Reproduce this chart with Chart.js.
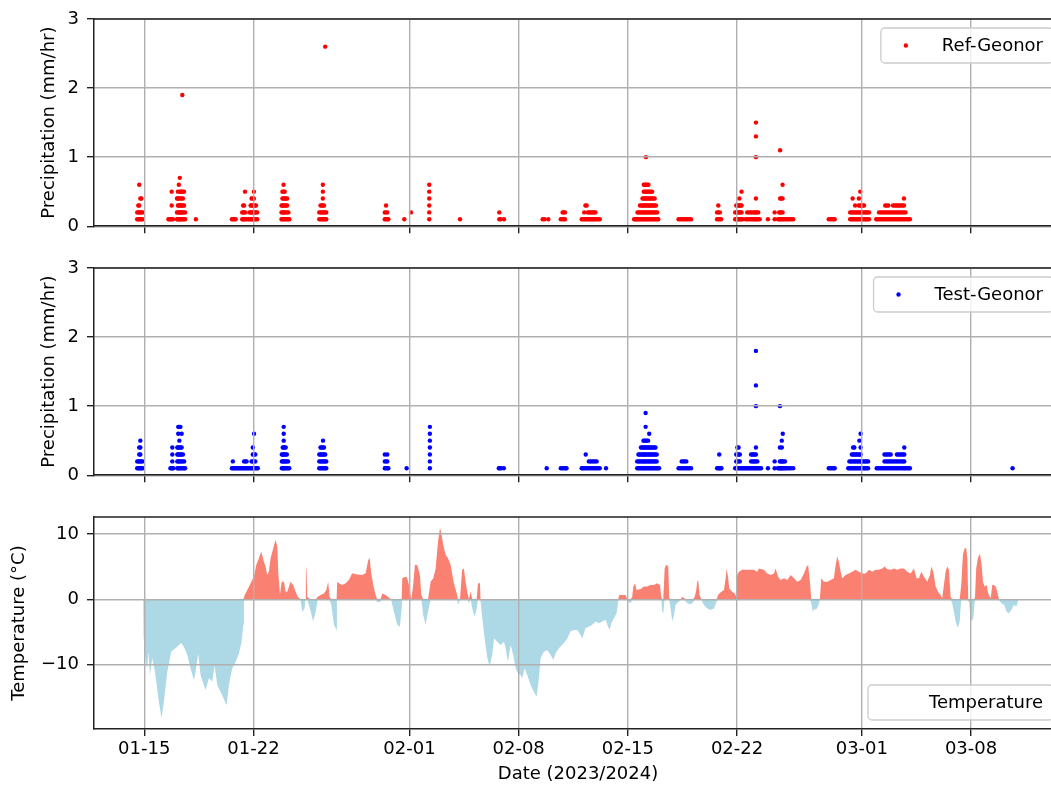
<!DOCTYPE html>
<html>
<head>
<meta charset="utf-8">
<script src="https://cdn.jsdelivr.net/npm/chart.js@4"></script>
<style>
  html, body { margin: 0; padding: 0; background: #fff; overflow: hidden; }
  body { width: 1051px; height: 785px; position: relative; }
  canvas { position: absolute; left: 0; }
  #c1 { top: 0; }
  #c2 { top: 249px; }
  #c3 { top: 498px; }
</style>
</head>
<body>
<canvas id="c1" width="1070" height="245"></canvas>
<canvas id="c2" width="1070" height="245"></canvas>
<canvas id="c3" width="1070" height="287"></canvas>
<script>
// x positions are days counted from 2024-01-15
const xTickDays = [0, 7, 17, 24, 31, 38, 46, 53];
const xTickLabels = ["01-15", "01-22", "02-01", "02-08", "02-15", "02-22", "03-01", "03-08"];
const xMin = -3.22;
const xMax = 58.83;

const precipTicks = [0, 1, 2, 3];
const tempTicks = [-10, 0, 10];

// [day, hourly values (mm/hr) ...]
const refColumns = [
  [-0.45,.1,.2],[-0.38,.1,.2,.3],[-0.32,.1,.2,.3,.6],[-0.25,.1,.2,.4],[-0.18,.1,.2,.4],[-0.1,.1,.2],
  [1.55,.1],[1.62,.1],[1.7,.1],[1.76,.1,.3,.5],[1.84,.1],[2.1,.1,.2,.4],[2.16,.1,.2,.3,.4,.5],
  [2.22,.1,.2,.3,.4,.6],[2.28,.1,.2,.3,.4,.5,.7],[2.34,.1,.2,.3,.5],[2.4,.1,.2,.3,.4,.5],[2.44,1.9],
  [2.48,.1,.2,.3,.4,.5],[2.55,.1,.2,.3,.5],[2.62,.1,.2],[3.31,.1],
  [5.62,.1],[5.7,.1],[5.78,.1],[5.86,.1],[6.28,.1,.2],[6.34,.1,.2,.3],[6.4,.1,.2,.3],[6.46,.1,.2,.5],
  [6.56,.1],[6.66,.1],[6.74,.1,.2],[6.82,.1,.2,.3],[6.88,.1,.2,.3,.4],[6.95,.1,.2,.3,.4],
  [7.03,.1,.2,.3,.4,.5],[7.1,.1,.2,.3],[7.16,.1,.2,.3],[7.24,.1,.2],
  [8.8,.1,.2,.3],[8.86,.1,.2,.3,.4,.5],[8.93,.1,.2,.3,.4,.5,.6],[9.0,.1,.2,.3,.4,.5],[9.08,.1,.2,.3,.4],
  [9.16,.1,.2,.3,.4],[9.24,.1,.2],[9.3,.1],
  [11.22,.1,.2],[11.3,.1,.2,.3],[11.38,.1,.2,.3],[11.45,.1,.2,.3,.4,.5,.6],[11.52,.1,.2,.3],
  [11.6,.1,.2,2.6],[11.67,.1,.2],
  [15.42,.1,.2],[15.5,.1,.2,.3],[15.58,.1,.2],[15.65,.1],[16.67,.1],[17.1,.2],
  [18.27,.1,.2,.3,.4,.5,.6],[20.24,.1],
  [22.76,.1,.2],[22.85,.1],[23.06,.1],
  [25.54,.1],[25.66,.1],[25.9,.1],[26.7,.1],[26.82,.1,.2],[26.9,.1,.2],[26.97,.1,.2],
  [28.04,.1],[28.12,.1],[28.2,.1,.2],[28.28,.1,.3],[28.36,.1,.3],[28.44,.1,.2],[28.52,.1,.2],
  [28.6,.1,.2],[28.68,.1,.2],[28.76,.1,.2],[28.84,.1,.2],[28.92,.1,.2],[29.0,.1],[29.1,.1],[29.2,.1],
  [31.4,.1],[31.48,.1],[31.56,.1],[31.62,.1,.2],[31.7,.1,.2],[31.78,.1,.2,.3],[31.86,.1,.2,.3],
  [31.94,.1,.2,.3,.4],[32.02,.1,.2,.3,.4,.5,.6],[32.1,.1,.2,.3,.4,.5,.6],[32.16,.1,.2,.3,.4,.5,.6,1.0],
  [32.24,.1,.2,.3,.4,.5,.6],[32.32,.1,.2,.3,.4,.5,.6],[32.4,.1,.2,.3,.4,.5],[32.48,.1,.2,.3,.4,.5],
  [32.56,.1,.2,.3,.4,.5],[32.64,.1,.2,.3,.4],[32.72,.1,.2,.3,.4],[32.8,.1,.2,.3],[32.88,.1,.2],[32.95,.1],
  [34.25,.1],[34.35,.1],[34.45,.1],[34.55,.1],[34.65,.1],[34.75,.1],[34.85,.1],[34.95,.1],[35.05,.1],
  [36.72,.1,.2],[36.8,.1,.2,.3],[36.9,.1,.2],[36.98,.1],
  [37.88,.1,.2],[37.95,.1,.2,.3],[38.02,.1,.2,.3],[38.1,.1,.2,.3],[38.15,.1,.2,.3,.4],[38.22,.1,.2,.3],
  [38.29,.1,.2,.3,.5],[38.36,.1],[38.55,.1],[38.65,.1,.2],[38.75,.1,.2],[38.85,.1,.2],[38.95,.1,.2],
  [39.05,.1,.2],[39.13,.1,.2],[39.21,.1,.2,.4,1.0,1.3,1.5],[39.28,.1,.2],[39.36,.1,.2],[39.45,.1],
  [39.98,.1],[40.41,.1,.2],[40.62,.1],[40.7,.1,.2],[40.76,.1,.2,.4,1.1],[40.84,.1,.2,.4],
  [40.92,.1,.2,.4,.6],[41.0,.1],[41.1,.1],[41.2,.1],[41.3,.1],[41.4,.1],[41.5,.1],[41.6,.1],
  [43.88,.1],[43.98,.1],[44.08,.1],[44.18,.1],[44.26,.1],
  [45.25,.1,.2],[45.33,.1,.2],[45.41,.1,.2,.4],[45.49,.1,.2],[45.57,.1,.2,.3],[45.65,.1,.2],
  [45.73,.1,.2],[45.81,.1,.2,.3,.4],[45.9,.1,.2,.3,.5],[45.98,.1,.2,.3],[46.06,.1,.2,.3],
  [46.14,.1,.2,.3],[46.22,.1,.2],[46.3,.1,.2],[46.38,.1,.2],[46.46,.1,.2],
  [46.92,.1],[47.0,.1],[47.1,.1,.2],[47.2,.1,.2],[47.3,.1,.2],[47.4,.1,.2],[47.5,.1,.2,.3],
  [47.6,.1,.2,.3],[47.7,.1,.2,.3],[47.8,.1,.2],[47.9,.1,.2],[48.0,.1,.2,.3],[48.1,.1,.2,.3],
  [48.2,.1,.2,.3],[48.3,.1,.2,.3],[48.4,.1,.2,.3],[48.5,.1,.2,.3],[48.6,.1,.2,.3],[48.7,.1,.2,.3,.4],
  [48.8,.1,.2],[48.9,.1],[49.0,.1],[49.08,.1]
];

const testColumns = [
  [-0.45,.1,.2],[-0.38,.1,.2],[-0.32,.1,.2,.3,.4],[-0.25,.1,.2,.3,.4,.5],[-0.18,.1,.2],[-0.1,.1,.2],
  [1.68,.1],[1.75,.1],[1.8,.1,.2,.3,.4],[1.86,.1],[2.12,.1,.2,.3,.4],[2.18,.1,.2,.3,.4,.6,.7],
  [2.25,.1,.2,.3,.4,.5,.7],[2.32,.1,.2,.3,.4,.7],[2.4,.1,.2,.3,.4,.6],[2.48,.1,.2,.3],[2.56,.1,.2],[2.62,.1],
  [5.62,.1],[5.68,.1,.2],[5.76,.1],[5.84,.1],[5.92,.1],[6.0,.1],[6.08,.1],[6.16,.1],[6.24,.1],[6.32,.1],
  [6.4,.1,.2],[6.48,.1,.2],[6.56,.1,.2],[6.64,.1],[6.72,.1],[6.8,.1],[6.88,.1,.2],[6.96,.1,.2,.3,.4],
  [7.04,.1,.2,.3,.6],[7.12,.1,.2,.3],[7.2,.1],[7.28,.1],
  [8.82,.1,.2,.3],[8.88,.1,.2,.3,.4],[8.94,.1,.2,.3,.4,.5,.6,.7],[9.0,.1,.2,.3,.4],[9.07,.1,.2,.3,.4],
  [9.14,.1,.2,.3],[9.22,.1,.2],[9.3,.1],
  [11.22,.1,.2,.3],[11.3,.1,.2,.3,.4],[11.38,.1,.2,.3,.4],[11.46,.1,.2,.3,.4,.5],[11.52,.1,.2,.3,.4],
  [11.6,.1,.2,.3],[11.67,.1,.2],
  [15.42,.1,.2,.3],[15.5,.1,.2],[15.58,.1,.2,.3],[15.65,.1],[16.82,.1],
  [18.31,.1,.2,.3,.4,.5,.6,.7],
  [22.73,.1],[22.8,.1],[22.88,.1],[23.05,.1],[25.8,.1],
  [26.7,.1],[26.8,.1],[26.9,.1],[27.0,.1],[27.07,.1],
  [28.04,.1],[28.12,.1],[28.2,.1],[28.3,.1,.3],[28.4,.1],[28.5,.1,.2],[28.6,.1,.2],[28.7,.1,.2],
  [28.8,.1,.2],[28.9,.1,.2],[29.0,.1,.2],[29.1,.1],[29.2,.1],[29.6,.1],
  [31.6,.1,.2],[31.68,.1,.2,.3],[31.76,.1,.2,.3],[31.84,.1,.2,.3,.4],[31.92,.1,.2,.3,.4],
  [32.0,.1,.2,.3,.4,.5],[32.07,.1,.2,.3,.4,.5],[32.14,.1,.2,.3,.4,.5,.7,.9],[32.22,.1,.2,.3,.4,.5],
  [32.3,.1,.2,.3,.4,.5],[32.37,.1,.2,.3,.4,.6],[32.45,.1,.2,.3,.4],[32.53,.1,.2,.3,.4],[32.61,.1,.2,.3,.4],
  [32.69,.1,.2,.3,.4],[32.77,.1,.2,.3,.4],[32.85,.1,.2,.3],[32.93,.1],[33.0,.1],
  [34.25,.1],[34.35,.1],[34.45,.1,.2],[34.55,.1,.2],[34.65,.1,.2],[34.75,.1,.2],[34.85,.1],[34.95,.1],[35.05,.1],
  [36.72,.1],[36.8,.1],[36.86,.1,.3],[36.94,.1],[37.0,.1],
  [37.88,.1],[37.95,.1,.2,.3],[38.02,.1,.2,.3,.4],[38.1,.1,.2,.3,.4],[38.18,.1,.2,.3],[38.26,.1],
  [38.34,.1],[38.42,.1],[38.5,.1],[38.58,.1],[38.66,.1],[38.74,.1],[38.82,.1],[38.9,.1,.2,.3],
  [38.98,.1,.2,.3],[39.06,.1,.2,.3],[39.14,.1,.2,.3],[39.21,.1,.2,.3,.4,1.0,1.3,1.8],[39.3,.1,.2],
  [39.38,.1],[39.46,.1],[39.54,.1],
  [39.98,.1],[40.41,.1,.2],[40.62,.1],[40.7,.1],[40.75,.1,.2,.4,1.0],[40.82,.1,.2],[40.87,.1,.2,.4,.5],
  [40.93,.1,.2,.6],[41.0,.1,.2],[41.07,.1,.2],[41.15,.1],[41.25,.1],[41.35,.1],[41.45,.1],[41.6,.1],
  [43.88,.1],[43.98,.1],[44.08,.1],[44.18,.1],[44.26,.1],
  [45.13,.1],[45.2,.1,.2],[45.28,.1,.2],[45.36,.1,.2,.3],[45.44,.1,.2,.3,.4],[45.52,.1,.2,.3,.4],
  [45.6,.1,.2,.3],[45.68,.1,.2,.3],[45.76,.1,.2,.3],[45.84,.1,.2,.3,.5],[45.92,.1,.2,.3,.4,.6],
  [46.0,.1,.2],[46.08,.1,.2],[46.16,.1,.2],[46.24,.1,.2],[46.32,.1,.2],[46.4,.1,.2],
  [46.95,.1],[47.05,.1],[47.15,.1],[47.25,.1],[47.35,.1],[47.45,.1,.2,.3],[47.55,.1,.2,.3],
  [47.65,.1,.2,.3],[47.75,.1,.2,.3],[47.85,.1,.2,.3],[47.95,.1,.2],[48.05,.1,.2],[48.15,.1,.2],
  [48.25,.1,.2,.3],[48.35,.1,.2,.3],[48.45,.1,.2,.3],[48.55,.1,.2,.3],[48.65,.1,.2,.3],
  [48.72,.1,.2,.3,.4],[48.8,.1],[48.9,.1],[49.0,.1],[49.08,.1],
  [55.66,.1]
];

// [day, air temperature (°C)]
const tempReadings = [
  [-0.07,0],[-0.05,-5.5],[0.09,-9.5],[0.19,-10.6],[0.26,-8.0],[0.37,-11.6],[0.51,-9.0],[0.69,-11.1],
  [0.94,-15.7],[1.11,-18.2],[1.26,-15.7],[1.48,-11.1],[1.73,-8.0],[2.01,-7.5],[2.22,-7.0],[2.37,-6.7],
  [2.54,-7.25],[2.76,-8.5],[2.97,-10.6],[3.19,-12.4],[3.29,-11.1],[3.46,-8.3],[3.61,-11.6],[3.93,-13.9],
  [4.15,-12.1],[4.36,-12.6],[4.51,-10.1],[4.68,-13.1],[5.0,-14.7],[5.28,-16.2],[5.43,-13.1],[5.64,-10.6],
  [5.86,-9.55],[6.07,-8.3],[6.24,-6.5],[6.35,-3.9],[6.39,-0.4],[6.44,0.66],[6.6,1.4],[6.82,2.45],
  [6.92,2.96],[7.03,3.47],[7.18,5.25],[7.35,6.28],[7.5,7.3],[7.67,5.76],[7.78,5.0],[7.88,3.7],[7.99,4.2],
  [8.1,6.28],[8.27,7.8],[8.42,9.1],[8.53,8.06],[8.59,4.2],[8.7,0.7],[8.81,2.7],[8.96,2.7],[9.06,1.17],
  [9.17,1.17],[9.38,2.7],[9.55,2.2],[9.7,1.17],[9.85,0.4],[10.02,-0.1],[10.13,-1.9],[10.28,-1.4],
  [10.33,0],[10.36,5.0],[10.4,4.5],[10.45,0.4],[10.62,-1.4],[10.83,-3.4],[10.99,-1.9],[11.13,0.4],
  [11.31,0.66],[11.52,0.9],[11.67,1.42],[11.79,2.7],[11.88,0.4],[11.99,-0.87],[12.16,-3.9],[12.33,-4.7],
  [12.35,0],[12.37,2.7],[12.48,2.45],[12.69,2.2],[12.91,2.45],[13.12,2.96],[13.33,4.0],[13.65,3.8],
  [13.97,3.7],[14.19,4.0],[14.36,6.0],[14.45,6.3],[14.55,4.0],[14.68,2.2],[14.83,0.66],[14.94,-0.46],
  [15.15,-0.36],[15.26,0.9],[15.47,0.66],[15.69,0.25],[15.83,-0.1],[16.01,-1.9],[16.22,-3.9],[16.39,-4.2],
  [16.5,-1.4],[16.54,3.2],[16.76,3.47],[16.86,3.2],[16.97,2.2],[17.12,-0.26],[17.24,2.2],[17.35,5.25],
  [17.5,5.25],[17.67,3.7],[17.76,0.66],[17.88,-2.4],[18.04,-3.9],[18.19,-1.9],[18.36,2.7],[18.53,3.2],
  [18.68,4.7],[18.83,8.8],[18.96,10.9],[19.04,10.1],[19.17,8.3],[19.32,6.8],[19.47,6.3],[19.64,5.25],
  [19.85,2.45],[20.06,0.66],[20.11,-0.87],[20.24,-0.1],[20.38,4.5],[20.49,4.7],[20.6,2.7],[20.71,1.17],
  [20.81,-0.6],[20.92,1.17],[21.03,-1.4],[21.18,-2.7],[21.31,-1.4],[21.39,2.45],[21.52,2.45],
  [21.56,-0.36],[21.67,-2.9],[21.82,-6.0],[21.99,-9.0],[22.14,-10.3],[22.31,-8.5],[22.42,-6.0],
  [22.63,-6.5],[22.85,-7.0],[23.06,-6.5],[23.17,-7.5],[23.31,-9.55],[23.49,-7.0],[23.65,-8.5],
  [23.81,-10.6],[23.96,-11.4],[24.13,-11.6],[24.23,-12.1],[24.38,-10.6],[24.55,-11.6],[24.77,-13.1],
  [24.98,-14.2],[25.15,-14.9],[25.3,-12.1],[25.41,-9.0],[25.62,-8.0],[25.83,-7.8],[26.05,-8.5],
  [26.22,-9.3],[26.37,-8.3],[26.58,-7.5],[26.9,-6.7],[27.12,-6.0],[27.33,-4.9],[27.54,-4.7],
  [27.76,-4.7],[27.97,-5.47],[28.08,-6.0],[28.29,-4.4],[28.51,-4.2],[28.72,-3.9],[28.94,-3.4],
  [29.15,-3.65],[29.36,-3.4],[29.58,-3.15],[29.68,-3.9],[29.83,-4.7],[29.94,-3.65],[30.11,-2.9],
  [30.28,-2.15],[30.38,-0.36],[30.45,0.66],[30.64,0.66],[30.86,0.66],[30.96,-0.1],[31.07,-0.46],
  [31.18,-0.6],[31.28,0.4],[31.35,1.94],[31.46,2.45],[31.56,1.42],[31.82,1.58],[32.03,1.94],
  [32.24,1.94],[32.46,2.2],[32.67,2.2],[32.88,2.45],[33.06,2.2],[33.14,0.4],[33.21,-1.9],[33.27,-2.15],
  [33.36,4.7],[33.44,5.25],[33.59,5.1],[33.65,0.15],[33.74,-1.4],[33.85,-3.4],[33.96,-2.4],[34.06,-0.87],
  [34.21,-0.46],[34.38,-0.1],[34.49,0.4],[34.6,0.15],[34.81,-0.6],[35.03,-0.77],[35.19,-0.46],
  [35.28,0.4],[35.37,1.17],[35.45,2.7],[35.51,2.96],[35.6,0.66],[35.71,-0.1],[35.88,-0.87],[36.09,-1.4],
  [36.31,-1.65],[36.52,-1.4],[36.69,-0.36],[36.78,0.66],[36.95,1.07],[37.16,1.42],[37.27,3.2],
  [37.33,4.7],[37.42,3.47],[37.5,1.68],[37.69,1.17],[37.85,0.9],[37.95,0.4],[38.01,3.7],[38.12,4.2],
  [38.33,4.5],[38.65,4.5],[39.08,4.5],[39.29,4.2],[39.4,4.7],[39.72,4.5],[39.94,3.96],[40.15,3.7],
  [40.37,3.96],[40.47,4.7],[40.62,3.47],[40.79,2.96],[41.01,3.2],[41.22,2.96],[41.44,3.7],[41.65,3.2],
  [41.86,2.7],[42.08,2.96],[42.29,3.96],[42.46,5.0],[42.56,5.25],[42.67,2.7],[42.76,-0.6],[42.85,-1.9],
  [42.97,-1.4],[43.04,-1.65],[43.19,-1.1],[43.31,-0.1],[43.4,3.2],[43.57,2.7],[43.78,2.7],[44.0,2.96],
  [44.21,3.2],[44.32,5.25],[44.42,6.54],[44.53,5.76],[44.64,4.2],[44.74,3.2],[44.96,3.7],[45.17,3.96],
  [45.38,4.2],[45.6,4.5],[45.81,4.2],[46.03,3.96],[46.24,3.96],[46.46,4.5],[46.67,4.2],[46.88,4.5],
  [47.1,4.5],[47.31,4.7],[47.46,5.0],[47.63,4.6],[47.85,4.5],[48.06,4.7],[48.27,4.5],[48.49,4.7],
  [48.7,4.7],[48.91,4.2],[49.13,3.96],[49.34,4.7],[49.51,3.2],[49.66,3.2],[49.81,4.2],[49.98,3.47],
  [50.19,2.7],[50.37,3.7],[50.45,5.0],[50.58,4.2],[50.73,1.94],[50.88,1.17],[51.05,0.66],[51.15,0.15],
  [51.26,2.2],[51.37,4.2],[51.47,5.0],[51.58,4.5],[51.69,0.4],[51.79,-0.6],[51.9,-1.9],[52.01,-3.4],
  [52.16,-4.4],[52.27,-3.4],[52.37,2.2],[52.48,6.8],[52.59,7.8],[52.69,7.8],[52.76,6.3],[52.82,-0.36],
  [52.88,-0.36],[52.93,-2.15],[53.01,-3.4],[53.14,-2.9],[53.25,0.15],[53.33,4.7],[53.44,6.3],[53.57,7.0],
  [53.68,5.25],[53.76,2.7],[53.87,1.94],[54.0,2.2],[54.1,0.9],[54.26,0.15],[54.36,2.2],[54.47,2.2],
  [54.58,1.94],[54.68,1.17],[54.79,-0.1],[54.94,-0.6],[55.12,-0.87],[55.28,-1.9],[55.43,-2.15],
  [55.58,-1.65],[55.75,-0.87],[55.9,-1.1],[56.0,-0.36],[56.02,0]
];


Chart.defaults.font.family = '"DejaVu Sans", sans-serif';
Chart.defaults.font.size = 18;
Chart.defaults.color = "#000";
Chart.defaults.animation = false;


function columnsToPoints(columns){
  const pts = [];
  columns.forEach(col => {
    for(let i = 1; i < col.length; i++){
      pts.push({ x: col[0], y: col[i] });
    }
  });
  return pts;
}


// matplotlib-like frame on top / right
const frame = {
  id: "frame",
  afterDraw(chart){
    const { ctx, chartArea: a } = chart;
    ctx.save();
    ctx.strokeStyle = "#222";
    ctx.lineWidth = 1.5;
    ctx.beginPath();
    ctx.moveTo(a.left, a.top);
    ctx.lineTo(a.right, a.top);
    ctx.lineTo(a.right, a.bottom);
    ctx.stroke();
    ctx.restore();
  }
};


// legend box inside the plot, top or bottom right
const boxLegend = {
  id: "boxLegend",
  afterDraw(chart, args, opts){
    if(!opts.label) return;
    const { ctx, chartArea: a } = chart;
    ctx.save();
    ctx.font = '18px "DejaVu Sans"';
    const tw = ctx.measureText(opts.label).width;
    const w = tw + 71, h = 35, r = 4;
    const right = a.right - 9;
    const left = right - w;
    const top = opts.corner === "bottom" ? a.bottom - 9 - h : a.top + 9;

    ctx.beginPath();
    ctx.moveTo(left + r, top);
    ctx.lineTo(right - r, top);
    ctx.arcTo(right, top, right, top + r, r);
    ctx.lineTo(right, top + h - r);
    ctx.arcTo(right, top + h, right - r, top + h, r);
    ctx.lineTo(left + r, top + h);
    ctx.arcTo(left, top + h, left, top + h - r, r);
    ctx.lineTo(left, top + r);
    ctx.arcTo(left, top, left + r, top, r);
    ctx.closePath();
    ctx.fillStyle = "rgba(255,255,255,0.8)";
    ctx.fill();
    ctx.strokeStyle = "#cccccc";
    ctx.lineWidth = 1.3;
    ctx.stroke();

    if(opts.color){
      ctx.beginPath();
      ctx.arc(left + 25, top + h / 2, 2.2, 0, Math.PI * 2);
      ctx.fillStyle = opts.color;
      ctx.fill();
    }
    ctx.fillStyle = "#000";
    ctx.textBaseline = "middle";
    ctx.textAlign = "left";
    ctx.fillText(opts.label, left + 61, top + h / 2 + 1);
    ctx.restore();
  }
};


function xScale(showLabels, axisHeight){
  return {
    type: "linear",
    min: xMin,
    max: xMax,
    afterBuildTicks(scale){
      scale.ticks = xTickDays.map(v => ({ value: v }));
    },
    afterFit(scale){
      scale.height = axisHeight;
    },
    ticks: {
      display: showLabels,
      padding: 3,
      maxRotation: 0,
      callback: (v, i) => xTickLabels[i]
    },
    grid: { z: 1, color: "#b0b0b0", lineWidth: 1.4, tickColor: "#222", tickLength: 7 },
    border: { z: 2, color: "#222", width: 1.5 },
    title: {
      display: showLabels,
      text: "Date (2023/2024)",
      padding: { top: 0, bottom: 0 }
    }
  };
}


function yScale(min, max, ticks, title, titlePad){
  return {
    min: min,
    max: max,
    afterBuildTicks(scale){
      scale.ticks = ticks.map(v => ({ value: v }));
    },
    afterFit(scale){
      scale.width = 94;
    },
    ticks: {
      padding: 8,
      callback: v => v < 0 ? "\u2212" + Math.abs(v) : String(v)
    },
    grid: { z: 1, color: "#b0b0b0", lineWidth: 1.4, tickColor: "#222", tickLength: 7 },
    border: { z: 2, color: "#222", width: 1.5 },
    title: { display: true, text: title, padding: { top: titlePad, bottom: 0 } }
  };
}


function precipChart(id, columns, color, label){
  return new Chart(document.getElementById(id), {
    type: "scatter",
    data: {
      datasets: [{
        label: label,
        data: columnsToPoints(columns),
        pointRadius: 2.2,
        pointBorderWidth: 0,
        pointBackgroundColor: color,
        showLine: false
      }]
    },
    options: {
      responsive: false,
      devicePixelRatio: 1,
      layout: { padding: { top: 19, left: 0, right: 8, bottom: 0 } },
      plugins: {
        legend: { display: false },
        tooltip: { enabled: false },
        boxLegend: { label: label, color: color, corner: "top" }
      },
      scales: {
        x: xScale(false, 16),
        y: yScale(0, 3, precipTicks, "Precipitation (mm/hr)", 39)
      }
    },
    plugins: [frame, boxLegend]
  });
}


precipChart("c1", refColumns, "red", "Ref-Geonor");
precipChart("c2", testColumns, "blue", "Test-Geonor");


// warm and cold parts are filled separately against 0
const warmPart = tempReadings.map(p => ({ x: p[0], y: Math.max(p[1], 0) }));
const coldPart = tempReadings.map(p => ({ x: p[0], y: Math.min(p[1], 0) }));

function areaSet(label, data, color){
  return {
    label: label,
    data: data,
    borderWidth: 0,
    borderColor: "rgba(0,0,0,0)",
    backgroundColor: color,
    pointRadius: 0,
    tension: 0,
    fill: "origin"
  };
}

new Chart(document.getElementById("c3"), {
  type: "line",
  data: {
    datasets: [
      areaSet("Temperature", warmPart, "#FA8072"),
      areaSet("Temperature cold", coldPart, "#ADD8E6")
    ]
  },
  options: {
    responsive: false,
    devicePixelRatio: 1,
    layout: { padding: { top: 19, left: 0, right: 8, bottom: 0 } },
    plugins: {
      legend: { display: false },
      tooltip: { enabled: false },
      boxLegend: { label: "Temperature", color: null, corner: "bottom" }
    },
    scales: {
      x: xScale(true, 56),
      y: yScale(-19.85, 12.59, tempTicks, "Temperature (°C)", 9)
    }
  },
  plugins: [frame, boxLegend]
});
</script>
</body>
</html>
